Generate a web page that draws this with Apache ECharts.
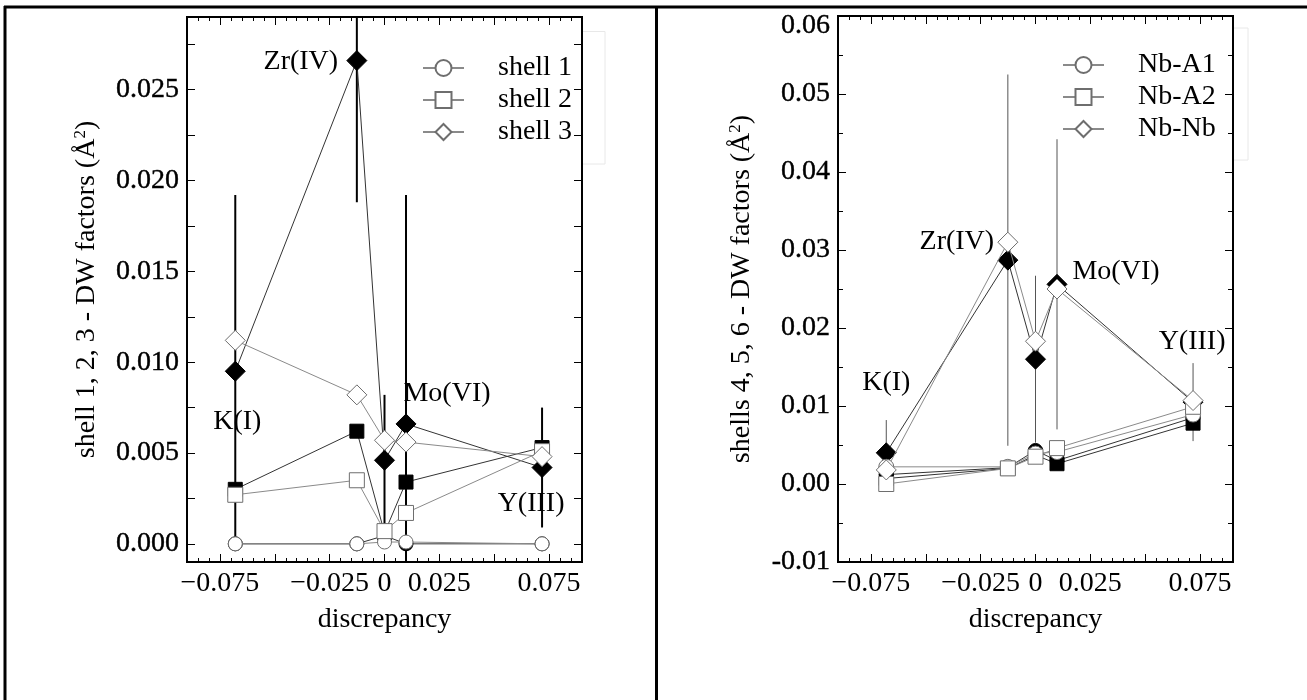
<!DOCTYPE html>
<html>
<head>
<meta charset="utf-8">
<script src="https://cdn.jsdelivr.net/npm/echarts@6/dist/echarts.min.js"></script>
<style>
  html, body { margin: 0; padding: 0; background: #fff; }
  #chart { width: 1307px; height: 700px; }
</style>
</head>
<body>
<div id="chart"></div>
<script>
// discrepancy of each dopant (K, Zr, undoped, Mo, Y)
const disc = [-0.068, -0.0126, 0, 0.0098, 0.0718];
const ionNames = ['K(I)', 'Zr(IV)', '', 'Mo(VI)', 'Y(III)'];

// left panel: shells 1-3 (open = legend series, filled = second fit with error bars)
const shell1Open = [0.0000, 0.0000, 0.0001, 0.0001, 0.0000];
const shell1Fill = [0.0000, 0.0000, 0.00045, 0.0000, 0.0000];
const shell2Open = [0.0027, 0.0035, 0.0007, 0.0017, 0.0051];
const shell2Fill = [0.0030, 0.0062, 0.0006, 0.0034, 0.0053];
const shell3Open = [0.0112, 0.0082, 0.0057, 0.0056, 0.0048];
const shell3Fill = [0.0095, 0.0266, 0.0046, 0.0066, 0.0042];
const shell3Err  = [0.0097, 0.0078, 0.0036, 0.0126, 0.0033];

// right panel: shells 4-6
const a1Open = [0.0022, 0.0022, 0.0039, 0.0041, 0.0089];
const a1Fill = [0.0012, 0.0021, 0.0043, 0.0030, 0.0085];
const a2Open = [0.0000, 0.0020, 0.0035, 0.0046, 0.0099];
const a2Fill = [0.0007, 0.0020, 0.0037, 0.0026, 0.0078];
const nbOpen = [0.0018, 0.0310, 0.0183, 0.0250, 0.0107];
const nbFill = [0.0040, 0.0287, 0.0160, 0.0256, 0.0105];
const nbErr  = [0.0042, 0.0238, 0.0107, 0.0186, 0.0050];

// ticks
const xMajor = [-0.075, -0.05, -0.025, 0, 0.025, 0.05, 0.075];
const xLabels = [-0.075, -0.025, 0, 0.025, 0.075];
const leftYTicks = [0, 0.0025, 0.005, 0.0075, 0.01, 0.0125, 0.015, 0.0175, 0.02, 0.0225, 0.025, 0.0275];
const leftYLabels = [0, 0.005, 0.01, 0.015, 0.02, 0.025];
const rightYLabels = [-0.01, 0, 0.01, 0.02, 0.03, 0.04, 0.05, 0.06];
const rightYMinor = [-0.005, 0.005, 0.015, 0.025, 0.035, 0.045, 0.055];

const xMinor = [];
for (let i = -17; i <= 17; i++) {
  if (i % 5 !== 0) xMinor.push(+(i * 0.005).toFixed(3));
}

const FONT = '"Liberation Serif", "Times New Roman", serif';
const txt = { fontFamily: FONT, fontSize: 28, color: '#000' };
// tick numbers look a little heavier than the rest of the text
const yTxt = Object.assign({}, txt, { textBorderColor: '#000', textBorderWidth: 0.4 });

function fmtX(v) {
  if (Math.abs(v) < 1e-9) return '0';
  return (v < 0 ? '\u2212' : '') + Math.abs(v).toFixed(3);
}

function tickAxis(gridIndex, position, min, max, ticks, len, extra) {
  return Object.assign({
    type: 'value', gridIndex, position, min, max,
    axisLine: { show: false, onZero: false },
    splitLine: { show: false },
    axisTick: { inside: true, length: len, customValues: ticks, lineStyle: { color: '#000', width: 1 } },
    axisLabel: { show: false }
  }, extra || {});
}

// echarts flips a repeated position to the other side, so order is:
// major bottom, major top, minor (-> top), minor (-> bottom)
function xAxes(g) {
  return [
    tickAxis(g, 'bottom', -0.09, 0.09, xMajor, 8, {
      axisLabel: Object.assign({ customValues: xLabels, formatter: fmtX, margin: 8 }, txt),
      name: 'discrepancy', nameLocation: 'middle', nameGap: 44, nameTextStyle: txt
    }),
    tickAxis(g, 'top', -0.09, 0.09, xMajor, 8),
    tickAxis(g, 'bottom', -0.09, 0.09, xMinor, 4),
    tickAxis(g, 'top', -0.09, 0.09, xMinor, 4)
  ];
}

function yName(text, gap) {
  return {
    name: text, nameLocation: 'middle', nameGap: gap,
    nameTextStyle: Object.assign({}, txt, {
      lineHeight: 30,
      rich: { sup: { fontFamily: FONT, fontSize: 17, color: '#000', verticalAlign: 'top', lineHeight: 14 } }
    })
  };
}

const yAxis = [
  // left panel
  tickAxis(0, 'left', -0.001, 0.029, leftYTicks, 8, Object.assign({
    axisLabel: Object.assign({ customValues: leftYLabels, formatter: v => v.toFixed(3), margin: 8 }, yTxt)
  }, yName('shell 1, 2, 3 - DW factors (Å{sup|2})', 85))),
  tickAxis(0, 'right', -0.001, 0.029, leftYTicks, 8),
  // right panel
  tickAxis(1, 'left', -0.01, 0.06, rightYLabels, 8, Object.assign({
    axisLabel: Object.assign({
      customValues: rightYLabels, margin: 8,
      formatter: v => v > 0.0595 ? '{t|' + v.toFixed(2) + '}' : v.toFixed(2),
      rich: { t: Object.assign({ padding: [20, 0, 0, 0] }, yTxt) }
    }, yTxt)
  }, yName('shells 4, 5, 6 - DW factors (Å{sup|2})', 81))),
  tickAxis(1, 'right', -0.01, 0.06, rightYLabels, 8),
  tickAxis(1, 'left', -0.01, 0.06, rightYMinor, 5),
  tickAxis(1, 'right', -0.01, 0.06, rightYMinor, 5)
];

function pts(vals) {
  return disc.map((d, i) => [d, vals[i]]);
}

function lineSeries(name, vals, xi, yi, filled, symbol, size) {
  return {
    type: 'line', name, xAxisIndex: xi, yAxisIndex: yi,
    data: pts(vals), symbol, symbolSize: size, showSymbol: true,
    lineStyle: { color: filled ? '#333' : '#8a8a8a', width: 1 },
    itemStyle: { color: filled ? '#000' : '#fff', borderColor: filled ? '#000' : '#6e6e6e', borderWidth: 1 },
    emphasis: { disabled: true }, silent: true,
    z: filled ? 3 : 4
  };
}

function errSeries(vals, errs, xi, yi, color, width) {
  return {
    type: 'custom', xAxisIndex: xi, yAxisIndex: yi, clip: true, silent: true, z: 2,
    data: disc.map((d, i) => [d, vals[i] - errs[i], vals[i] + errs[i]]),
    encode: { x: 0, y: [1, 2] },
    renderItem(params, api) {
      const p1 = api.coord([api.value(0), api.value(1)]);
      const p2 = api.coord([api.value(0), api.value(2)]);
      return {
        type: 'line',
        shape: { x1: p1[0], y1: p1[1], x2: p2[0], y2: p2[1] },
        style: { stroke: color, lineWidth: width }
      };
    }
  };
}

function ionLabels(vals, offsets, xi, yi) {
  return {
    type: 'scatter', xAxisIndex: xi, yAxisIndex: yi, symbolSize: 1, silent: true, z: 6,
    itemStyle: { color: 'transparent', opacity: 1 },
    data: disc.map((d, i) => ({
      value: [d, vals[i]],
      label: Object.assign({ show: true, position: 'inside', offset: offsets[i], formatter: ionNames[i] }, txt)
    }))
  };
}

const leftOffsets = [[2, 50], [-56, 1], [0, 0], [41, -30], [-11, 36]];
const rightOffsets = [[0, -70], [-51, -18], [0, 0], [59, -13], [-1, -60]];

const series = [
  errSeries(shell3Fill, shell3Err, 0, 0, '#000', 2),
  lineSeries('s1f', shell1Fill, 0, 0, true, 'circle', 14),
  lineSeries('s2f', shell2Fill, 0, 0, true, 'rect', 14),
  lineSeries('s3f', shell3Fill, 0, 0, true, 'diamond', 20),
  lineSeries('shell 1', shell1Open, 0, 0, false, 'circle', 14),
  lineSeries('shell 2', shell2Open, 0, 0, false, 'rect', 15),
  lineSeries('shell 3', shell3Open, 0, 0, false, 'diamond', 20),
  ionLabels(shell3Fill, leftOffsets, 0, 0),

  errSeries(nbFill, nbErr, 4, 2, '#555', 1),
  lineSeries('a1f', a1Fill, 4, 2, true, 'circle', 14),
  lineSeries('a2f', a2Fill, 4, 2, true, 'rect', 14),
  lineSeries('nbf', nbFill, 4, 2, true, 'diamond', 20),
  lineSeries('Nb-A1', a1Open, 4, 2, false, 'circle', 15),
  lineSeries('Nb-A2', a2Open, 4, 2, false, 'rect', 15),
  lineSeries('Nb-Nb', nbOpen, 4, 2, false, 'diamond', 20),
  ionLabels(nbFill, rightOffsets, 4, 2)
];

function legendAt(names, left, top) {
  return {
    data: names, orient: 'vertical', left, top,
    itemWidth: 41, itemHeight: 20, itemGap: 4, selectedMode: false,
    textStyle: Object.assign({ lineHeight: 28, padding: [0, 0, 0, 29] }, txt)
  };
}

// table cell borders and faint legend-box remnants
const graphic = [
  { type: 'line', shape: { x1: 4, y1: 7, x2: 1307, y2: 7 }, style: { stroke: '#000', lineWidth: 3 } },
  { type: 'line', shape: { x1: 5, y1: 6, x2: 5, y2: 700 }, style: { stroke: '#000', lineWidth: 3 } },
  { type: 'line', shape: { x1: 656.5, y1: 6, x2: 656.5, y2: 700 }, style: { stroke: '#000', lineWidth: 3 } },
  { type: 'polyline', shape: { points: [[583, 31.5], [605, 31.5], [605, 164], [583, 164]] }, style: { stroke: '#e8e8e8', fill: null, lineWidth: 1 } },
  { type: 'polyline', shape: { points: [[1234, 28], [1248, 28], [1248, 160], [1234, 160]] }, style: { stroke: '#e8e8e8', fill: null, lineWidth: 1 } }
];

const chart = echarts.init(document.getElementById('chart'), null, { renderer: 'canvas' });
chart.setOption({
  animation: false,
  backgroundColor: '#fff',
  grid: [
    { left: 187, top: 17, width: 395, height: 545, show: true, borderColor: '#000', borderWidth: 2, backgroundColor: 'transparent' },
    { left: 838, top: 16, width: 395, height: 546, show: true, borderColor: '#000', borderWidth: 2, backgroundColor: 'transparent' }
  ],
  xAxis: xAxes(0).concat(xAxes(1)),
  yAxis,
  legend: [
    legendAt(['shell 1', 'shell 2', 'shell 3'], 417, 49),
    legendAt(['Nb-A1', 'Nb-A2', 'Nb-Nb'], 1057, 46)
  ],
  graphic,
  series
});
</script>
</body>
</html>
